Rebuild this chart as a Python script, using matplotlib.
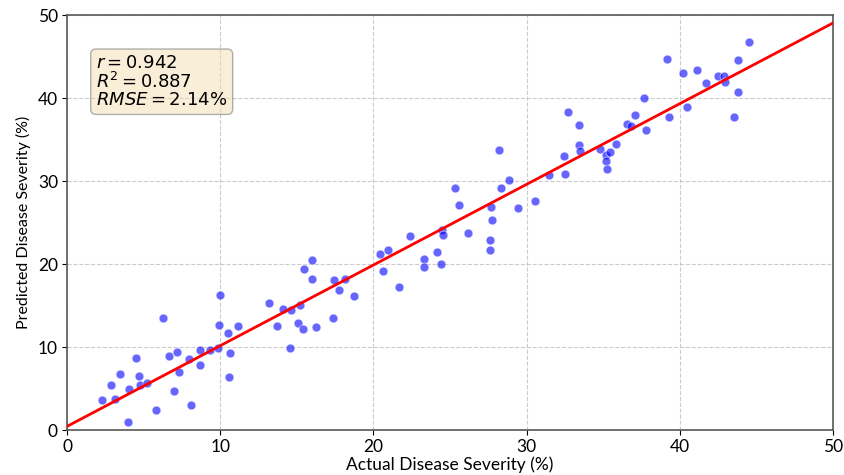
import matplotlib

matplotlib.use("Agg")
import matplotlib.pyplot as plt
import numpy as np

# actual vs predicted disease severity (%)
actual = [
    2.26, 3.11, 2.9, 3.48, 3.96, 4.05, 4.53, 4.72, 4.77, 5.24,
    5.79, 6.25, 6.64, 7.0, 7.16, 7.29, 7.98, 8.07, 8.7, 8.7,
    9.33, 9.86, 9.92, 9.99, 10.49, 10.62, 10.55, 11.18,
    13.19, 13.69, 14.08, 14.6, 14.58, 15.08, 15.19, 15.43, 15.45, 15.99,
    15.99, 16.27, 17.36, 17.43, 17.78, 18.15, 18.75, 20.41, 20.6, 20.97,
    21.67, 22.37, 23.28, 23.28, 24.15, 24.41, 24.48, 24.56, 25.35, 25.57,
    26.2, 27.66, 27.61, 27.61,
    27.76, 28.18, 28.33, 28.83, 29.46, 30.53, 31.46, 32.5, 32.44, 32.72,
    33.44, 33.49, 33.44, 34.79, 35.2, 35.2, 35.27, 35.42, 35.86, 36.55,
    36.8, 37.1, 37.68, 37.81, 39.16, 39.3, 40.23, 40.49, 41.14, 41.71,
    42.47, 42.89, 42.95, 43.54, 43.78, 43.78, 44.5,
]
predicted = [
    3.6, 3.7, 5.4, 6.7, 0.93, 5.0, 8.7, 6.5, 5.4, 5.7,
    2.37, 13.45, 8.9, 4.66, 9.4, 6.95, 8.6, 3.0, 9.6, 7.8,
    9.64, 9.9, 12.6, 16.3, 11.7, 9.3, 6.4, 12.5,
    15.3, 12.5, 14.6, 14.4, 9.9, 12.85, 15.1, 12.2, 19.4, 20.5,
    18.2, 12.4, 13.45, 18.07, 16.87, 18.2, 16.1, 21.2, 19.2, 21.7,
    17.2, 23.4, 20.6, 19.7, 21.5, 20.0, 24.1, 23.5, 29.2, 27.1,
    23.7, 26.9, 22.9, 21.65,
    25.3, 33.7, 29.1, 30.1, 26.8, 27.6, 30.7, 30.9, 33.0, 38.3,
    34.3, 33.6, 36.75, 33.9, 33.1, 32.4, 31.4, 33.5, 34.5, 36.9,
    36.6, 37.9, 40.0, 36.1, 44.7, 37.7, 43.0, 38.9, 43.4, 41.8,
    42.65, 42.6, 41.9, 37.7, 44.6, 40.7, 46.8,
]
stats_text = "$r = 0.942$\n$R^2 = 0.887$\n$RMSE = 2.14\\%$"

x = np.array(actual)
y = np.array(predicted)
slope, intercept = np.polyfit(x, y, 1)
x_line = np.array([0, 50])

plt.rcParams["font.family"] = ["Lato", "DejaVu Sans"]

fig = plt.figure(figsize=(8.45, 4.75), dpi=100)
ax = fig.add_axes([0.0793, 0.0947, 0.9065, 0.8737])

# white-edged translucent dots, like the reference
ax.scatter(x, y, s=40, color="blue", alpha=0.6, edgecolors="white", linewidths=0.6, zorder=3)
ax.plot(x_line, slope * x_line + intercept, color="red", lw=2, zorder=4)

ax.set_xlim(0, 50)
ax.set_ylim(0, 50)
ax.set_xticks(range(0, 51, 10))
ax.set_yticks(range(0, 51, 10))
ax.tick_params(labelsize=12.5, pad=3)
ax.set_xlabel("Actual Disease Severity (%)", fontsize=12.5, labelpad=1)
ax.set_ylabel("Predicted Disease Severity (%)", fontsize=11.5, labelpad=5)
ax.grid(True, linestyle="--", color="0.75", lw=0.8, alpha=0.8)
for sp in ax.spines.values():
    sp.set_color("0.35")
    sp.set_linewidth(1.2)

ax.text(0.038, 0.905, stats_text, transform=ax.transAxes, fontsize=13,
        family="DejaVu Sans", va="top", linespacing=0.95,
        bbox=dict(boxstyle="round", facecolor="wheat", alpha=0.5, edgecolor="0.4"))

fig.savefig("out.png", dpi=100)
